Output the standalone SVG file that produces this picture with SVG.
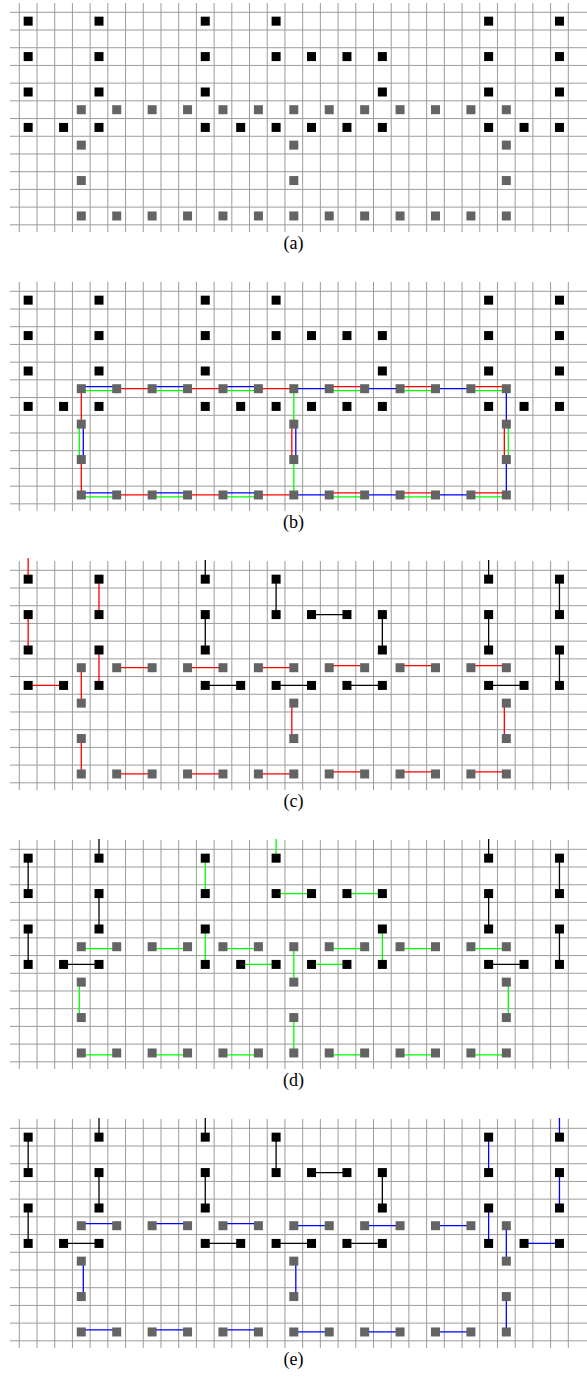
<svg xmlns="http://www.w3.org/2000/svg" xmlns:xlink="http://www.w3.org/1999/xlink" width="587" height="1377" viewBox="0 0 587 1377">
<style>
.grid{fill:none;stroke:#9c9c9c;stroke-width:1}
.cn line{stroke-width:1.3;fill:none}
.r{stroke:#ff0000}.g{stroke:#00ff00}.b{stroke:#0000ff}.k{stroke:#000000}
.lbl{font-family:"Liberation Serif","DejaVu Serif",serif;font-size:18px;fill:#000;text-anchor:middle}
</style>
<defs>
<path id="grid" class="grid" d="M19.3 3V232M37.01 3V232M54.72 3V232M72.43 3V232M90.14 3V232M107.85 3V232M125.56 3V232M143.27 3V232M160.98 3V232M178.69 3V232M196.4 3V232M214.11 3V232M231.82 3V232M249.53 3V232M267.24 3V232M284.95 3V232M302.66 3V232M320.37 3V232M338.08 3V232M355.79 3V232M373.5 3V232M391.21 3V232M408.92 3V232M426.63 3V232M444.34 3V232M462.05 3V232M479.76 3V232M497.47 3V232M515.18 3V232M532.89 3V232M550.6 3V232M568.31 3V232M10 12.3H587M10 30.01H587M10 47.72H587M10 65.43H587M10 83.14H587M10 100.85H587M10 118.56H587M10 136.27H587M10 153.98H587M10 171.69H587M10 189.4H587M10 207.11H587M10 224.82H587"/>
<rect id="k" x="-4.5" y="-4.5" width="9" height="9" fill="#000"/>
<rect id="q" x="-4.5" y="-4.5" width="9" height="9" fill="#646464"/>
</defs>

<!-- ===== Panel (a) ===== -->
<g id="panel-a">
<use href="#grid"/>
<g id="a-nodes">
<g id="a-k0-0"><use href="#k" x="28.16" y="21.16"/></g>
<g id="a-k4-0"><use href="#k" x="99" y="21.16"/></g>
<g id="a-k10-0"><use href="#k" x="205.26" y="21.16"/></g>
<g id="a-k14-0"><use href="#k" x="276.1" y="21.16"/></g>
<g id="a-k26-0"><use href="#k" x="488.62" y="21.16"/></g>
<g id="a-k30-0"><use href="#k" x="559.46" y="21.16"/></g>
<g id="a-k0-2"><use href="#k" x="28.16" y="56.58"/></g>
<g id="a-k4-2"><use href="#k" x="99" y="56.58"/></g>
<g id="a-k10-2"><use href="#k" x="205.26" y="56.58"/></g>
<g id="a-k14-2"><use href="#k" x="276.1" y="56.58"/></g>
<g id="a-k16-2"><use href="#k" x="311.52" y="56.58"/></g>
<g id="a-k18-2"><use href="#k" x="346.94" y="56.58"/></g>
<g id="a-k20-2"><use href="#k" x="382.36" y="56.58"/></g>
<g id="a-k26-2"><use href="#k" x="488.62" y="56.58"/></g>
<g id="a-k30-2"><use href="#k" x="559.46" y="56.58"/></g>
<g id="a-k0-4"><use href="#k" x="28.16" y="92"/></g>
<g id="a-k4-4"><use href="#k" x="99" y="92"/></g>
<g id="a-k10-4"><use href="#k" x="205.26" y="92"/></g>
<g id="a-k20-4"><use href="#k" x="382.36" y="92"/></g>
<g id="a-k26-4"><use href="#k" x="488.62" y="92"/></g>
<g id="a-k30-4"><use href="#k" x="559.46" y="92"/></g>
<g id="a-k0-6"><use href="#k" x="28.16" y="127.42"/></g>
<g id="a-k2-6"><use href="#k" x="63.58" y="127.42"/></g>
<g id="a-k4-6"><use href="#k" x="99" y="127.42"/></g>
<g id="a-k10-6"><use href="#k" x="205.26" y="127.42"/></g>
<g id="a-k12-6"><use href="#k" x="240.68" y="127.42"/></g>
<g id="a-k14-6"><use href="#k" x="276.1" y="127.42"/></g>
<g id="a-k16-6"><use href="#k" x="311.52" y="127.42"/></g>
<g id="a-k18-6"><use href="#k" x="346.94" y="127.42"/></g>
<g id="a-k20-6"><use href="#k" x="382.36" y="127.42"/></g>
<g id="a-k26-6"><use href="#k" x="488.62" y="127.42"/></g>
<g id="a-k28-6"><use href="#k" x="524.04" y="127.42"/></g>
<g id="a-k30-6"><use href="#k" x="559.46" y="127.42"/></g>
<g id="a-q3-5"><use href="#q" x="81.29" y="109.71"/></g>
<g id="a-q5-5"><use href="#q" x="116.71" y="109.71"/></g>
<g id="a-q7-5"><use href="#q" x="152.13" y="109.71"/></g>
<g id="a-q9-5"><use href="#q" x="187.55" y="109.71"/></g>
<g id="a-q11-5"><use href="#q" x="222.97" y="109.71"/></g>
<g id="a-q13-5"><use href="#q" x="258.39" y="109.71"/></g>
<g id="a-q15-5"><use href="#q" x="293.81" y="109.71"/></g>
<g id="a-q17-5"><use href="#q" x="329.23" y="109.71"/></g>
<g id="a-q19-5"><use href="#q" x="364.65" y="109.71"/></g>
<g id="a-q21-5"><use href="#q" x="400.07" y="109.71"/></g>
<g id="a-q23-5"><use href="#q" x="435.49" y="109.71"/></g>
<g id="a-q25-5"><use href="#q" x="470.91" y="109.71"/></g>
<g id="a-q27-5"><use href="#q" x="506.33" y="109.71"/></g>
<g id="a-q3-7"><use href="#q" x="81.29" y="145.13"/></g>
<g id="a-q15-7"><use href="#q" x="293.81" y="145.13"/></g>
<g id="a-q27-7"><use href="#q" x="506.33" y="145.13"/></g>
<g id="a-q3-9"><use href="#q" x="81.29" y="180.55"/></g>
<g id="a-q15-9"><use href="#q" x="293.81" y="180.55"/></g>
<g id="a-q27-9"><use href="#q" x="506.33" y="180.55"/></g>
<g id="a-q3-11"><use href="#q" x="81.29" y="215.97"/></g>
<g id="a-q5-11"><use href="#q" x="116.71" y="215.97"/></g>
<g id="a-q7-11"><use href="#q" x="152.13" y="215.97"/></g>
<g id="a-q9-11"><use href="#q" x="187.55" y="215.97"/></g>
<g id="a-q11-11"><use href="#q" x="222.97" y="215.97"/></g>
<g id="a-q13-11"><use href="#q" x="258.39" y="215.97"/></g>
<g id="a-q15-11"><use href="#q" x="293.81" y="215.97"/></g>
<g id="a-q17-11"><use href="#q" x="329.23" y="215.97"/></g>
<g id="a-q19-11"><use href="#q" x="364.65" y="215.97"/></g>
<g id="a-q21-11"><use href="#q" x="400.07" y="215.97"/></g>
<g id="a-q23-11"><use href="#q" x="435.49" y="215.97"/></g>
<g id="a-q25-11"><use href="#q" x="470.91" y="215.97"/></g>
<g id="a-q27-11"><use href="#q" x="506.33" y="215.97"/></g>
</g>
<text class="lbl" x="293.5" y="249">(a)</text>
</g>

<!-- ===== Panel (b) ===== -->
<g id="panel-b" transform="translate(0 279)">
<use href="#grid"/>
<g id="b-connectors" class="cn">
<line class="b" x1="81.29" y1="107.71" x2="116.71" y2="107.71"/><line class="g" x1="81.29" y1="111.71" x2="116.71" y2="111.71"/>
<line class="r" x1="116.71" y1="109.71" x2="152.13" y2="109.71"/>
<line class="b" x1="152.13" y1="107.71" x2="187.55" y2="107.71"/><line class="g" x1="152.13" y1="111.71" x2="187.55" y2="111.71"/>
<line class="r" x1="187.55" y1="109.71" x2="222.97" y2="109.71"/>
<line class="b" x1="222.97" y1="107.71" x2="258.39" y2="107.71"/><line class="g" x1="222.97" y1="111.71" x2="258.39" y2="111.71"/>
<line class="r" x1="258.39" y1="109.71" x2="293.81" y2="109.71"/>
<line class="b" x1="293.81" y1="109.71" x2="329.23" y2="109.71"/>
<line class="r" x1="329.23" y1="107.71" x2="364.65" y2="107.71"/><line class="g" x1="329.23" y1="111.71" x2="364.65" y2="111.71"/>
<line class="b" x1="364.65" y1="109.71" x2="400.07" y2="109.71"/>
<line class="r" x1="400.07" y1="107.71" x2="435.49" y2="107.71"/><line class="g" x1="400.07" y1="111.71" x2="435.49" y2="111.71"/>
<line class="b" x1="435.49" y1="109.71" x2="470.91" y2="109.71"/>
<line class="r" x1="470.91" y1="107.71" x2="506.33" y2="107.71"/><line class="g" x1="470.91" y1="111.71" x2="506.33" y2="111.71"/>
<line class="b" x1="81.29" y1="213.97" x2="116.71" y2="213.97"/><line class="g" x1="81.29" y1="217.97" x2="116.71" y2="217.97"/>
<line class="r" x1="116.71" y1="215.97" x2="152.13" y2="215.97"/>
<line class="b" x1="152.13" y1="213.97" x2="187.55" y2="213.97"/><line class="g" x1="152.13" y1="217.97" x2="187.55" y2="217.97"/>
<line class="r" x1="187.55" y1="215.97" x2="222.97" y2="215.97"/>
<line class="b" x1="222.97" y1="213.97" x2="258.39" y2="213.97"/><line class="g" x1="222.97" y1="217.97" x2="258.39" y2="217.97"/>
<line class="r" x1="258.39" y1="215.97" x2="293.81" y2="215.97"/>
<line class="b" x1="293.81" y1="215.97" x2="329.23" y2="215.97"/>
<line class="r" x1="329.23" y1="213.97" x2="364.65" y2="213.97"/><line class="g" x1="329.23" y1="217.97" x2="364.65" y2="217.97"/>
<line class="b" x1="364.65" y1="215.97" x2="400.07" y2="215.97"/>
<line class="r" x1="400.07" y1="213.97" x2="435.49" y2="213.97"/><line class="g" x1="400.07" y1="217.97" x2="435.49" y2="217.97"/>
<line class="b" x1="435.49" y1="215.97" x2="470.91" y2="215.97"/>
<line class="r" x1="470.91" y1="213.97" x2="506.33" y2="213.97"/><line class="g" x1="470.91" y1="217.97" x2="506.33" y2="217.97"/>
<line class="r" x1="81.29" y1="109.71" x2="81.29" y2="145.13"/>
<line class="g" x1="79.29" y1="145.13" x2="79.29" y2="180.55"/><line class="b" x1="83.29" y1="145.13" x2="83.29" y2="180.55"/>
<line class="r" x1="81.29" y1="180.55" x2="81.29" y2="215.97"/>
<line class="g" x1="293.81" y1="109.71" x2="293.81" y2="145.13"/>
<line class="r" x1="291.81" y1="145.13" x2="291.81" y2="180.55"/><line class="b" x1="295.81" y1="145.13" x2="295.81" y2="180.55"/>
<line class="g" x1="293.81" y1="180.55" x2="293.81" y2="215.97"/>
<line class="b" x1="506.33" y1="109.71" x2="506.33" y2="145.13"/>
<line class="r" x1="504.33" y1="145.13" x2="504.33" y2="180.55"/><line class="g" x1="508.33" y1="145.13" x2="508.33" y2="180.55"/>
<line class="b" x1="506.33" y1="180.55" x2="506.33" y2="215.97"/>
</g>
<g id="b-nodes">
<g id="b-k0-0"><use href="#k" x="28.16" y="21.16"/></g>
<g id="b-k4-0"><use href="#k" x="99" y="21.16"/></g>
<g id="b-k10-0"><use href="#k" x="205.26" y="21.16"/></g>
<g id="b-k14-0"><use href="#k" x="276.1" y="21.16"/></g>
<g id="b-k26-0"><use href="#k" x="488.62" y="21.16"/></g>
<g id="b-k30-0"><use href="#k" x="559.46" y="21.16"/></g>
<g id="b-k0-2"><use href="#k" x="28.16" y="56.58"/></g>
<g id="b-k4-2"><use href="#k" x="99" y="56.58"/></g>
<g id="b-k10-2"><use href="#k" x="205.26" y="56.58"/></g>
<g id="b-k14-2"><use href="#k" x="276.1" y="56.58"/></g>
<g id="b-k16-2"><use href="#k" x="311.52" y="56.58"/></g>
<g id="b-k18-2"><use href="#k" x="346.94" y="56.58"/></g>
<g id="b-k20-2"><use href="#k" x="382.36" y="56.58"/></g>
<g id="b-k26-2"><use href="#k" x="488.62" y="56.58"/></g>
<g id="b-k30-2"><use href="#k" x="559.46" y="56.58"/></g>
<g id="b-k0-4"><use href="#k" x="28.16" y="92"/></g>
<g id="b-k4-4"><use href="#k" x="99" y="92"/></g>
<g id="b-k10-4"><use href="#k" x="205.26" y="92"/></g>
<g id="b-k20-4"><use href="#k" x="382.36" y="92"/></g>
<g id="b-k26-4"><use href="#k" x="488.62" y="92"/></g>
<g id="b-k30-4"><use href="#k" x="559.46" y="92"/></g>
<g id="b-k0-6"><use href="#k" x="28.16" y="127.42"/></g>
<g id="b-k2-6"><use href="#k" x="63.58" y="127.42"/></g>
<g id="b-k4-6"><use href="#k" x="99" y="127.42"/></g>
<g id="b-k10-6"><use href="#k" x="205.26" y="127.42"/></g>
<g id="b-k12-6"><use href="#k" x="240.68" y="127.42"/></g>
<g id="b-k14-6"><use href="#k" x="276.1" y="127.42"/></g>
<g id="b-k16-6"><use href="#k" x="311.52" y="127.42"/></g>
<g id="b-k18-6"><use href="#k" x="346.94" y="127.42"/></g>
<g id="b-k20-6"><use href="#k" x="382.36" y="127.42"/></g>
<g id="b-k26-6"><use href="#k" x="488.62" y="127.42"/></g>
<g id="b-k28-6"><use href="#k" x="524.04" y="127.42"/></g>
<g id="b-k30-6"><use href="#k" x="559.46" y="127.42"/></g>
<g id="b-q3-5"><use href="#q" x="81.29" y="109.71"/></g>
<g id="b-q5-5"><use href="#q" x="116.71" y="109.71"/></g>
<g id="b-q7-5"><use href="#q" x="152.13" y="109.71"/></g>
<g id="b-q9-5"><use href="#q" x="187.55" y="109.71"/></g>
<g id="b-q11-5"><use href="#q" x="222.97" y="109.71"/></g>
<g id="b-q13-5"><use href="#q" x="258.39" y="109.71"/></g>
<g id="b-q15-5"><use href="#q" x="293.81" y="109.71"/></g>
<g id="b-q17-5"><use href="#q" x="329.23" y="109.71"/></g>
<g id="b-q19-5"><use href="#q" x="364.65" y="109.71"/></g>
<g id="b-q21-5"><use href="#q" x="400.07" y="109.71"/></g>
<g id="b-q23-5"><use href="#q" x="435.49" y="109.71"/></g>
<g id="b-q25-5"><use href="#q" x="470.91" y="109.71"/></g>
<g id="b-q27-5"><use href="#q" x="506.33" y="109.71"/></g>
<g id="b-q3-7"><use href="#q" x="81.29" y="145.13"/></g>
<g id="b-q15-7"><use href="#q" x="293.81" y="145.13"/></g>
<g id="b-q27-7"><use href="#q" x="506.33" y="145.13"/></g>
<g id="b-q3-9"><use href="#q" x="81.29" y="180.55"/></g>
<g id="b-q15-9"><use href="#q" x="293.81" y="180.55"/></g>
<g id="b-q27-9"><use href="#q" x="506.33" y="180.55"/></g>
<g id="b-q3-11"><use href="#q" x="81.29" y="215.97"/></g>
<g id="b-q5-11"><use href="#q" x="116.71" y="215.97"/></g>
<g id="b-q7-11"><use href="#q" x="152.13" y="215.97"/></g>
<g id="b-q9-11"><use href="#q" x="187.55" y="215.97"/></g>
<g id="b-q11-11"><use href="#q" x="222.97" y="215.97"/></g>
<g id="b-q13-11"><use href="#q" x="258.39" y="215.97"/></g>
<g id="b-q15-11"><use href="#q" x="293.81" y="215.97"/></g>
<g id="b-q17-11"><use href="#q" x="329.23" y="215.97"/></g>
<g id="b-q19-11"><use href="#q" x="364.65" y="215.97"/></g>
<g id="b-q21-11"><use href="#q" x="400.07" y="215.97"/></g>
<g id="b-q23-11"><use href="#q" x="435.49" y="215.97"/></g>
<g id="b-q25-11"><use href="#q" x="470.91" y="215.97"/></g>
<g id="b-q27-11"><use href="#q" x="506.33" y="215.97"/></g>
</g>
<text class="lbl" x="293.5" y="249">(b)</text>
</g>

<!-- ===== Panel (c) ===== -->
<g id="panel-c" transform="translate(0 558)">
<use href="#grid"/>
<g id="c-connectors" class="cn">
<line class="r" x1="116.71" y1="109.71" x2="152.13" y2="109.71"/>
<line class="r" x1="187.55" y1="109.71" x2="222.97" y2="109.71"/>
<line class="r" x1="258.39" y1="109.71" x2="293.81" y2="109.71"/>
<line class="r" x1="329.23" y1="107.71" x2="364.65" y2="107.71"/>
<line class="r" x1="400.07" y1="107.71" x2="435.49" y2="107.71"/>
<line class="r" x1="470.91" y1="107.71" x2="506.33" y2="107.71"/>
<line class="r" x1="116.71" y1="215.97" x2="152.13" y2="215.97"/>
<line class="r" x1="187.55" y1="215.97" x2="222.97" y2="215.97"/>
<line class="r" x1="258.39" y1="215.97" x2="293.81" y2="215.97"/>
<line class="r" x1="329.23" y1="213.97" x2="364.65" y2="213.97"/>
<line class="r" x1="400.07" y1="213.97" x2="435.49" y2="213.97"/>
<line class="r" x1="470.91" y1="213.97" x2="506.33" y2="213.97"/>
<line class="r" x1="81.29" y1="109.71" x2="81.29" y2="145.13"/>
<line class="r" x1="81.29" y1="180.55" x2="81.29" y2="215.97"/>
<line class="r" x1="291.81" y1="145.13" x2="291.81" y2="180.55"/>
<line class="r" x1="504.33" y1="145.13" x2="504.33" y2="180.55"/>
<line class="r" x1="28.16" y1="0" x2="28.16" y2="21.16"/>
<line class="r" x1="28.16" y1="56.58" x2="28.16" y2="92"/>
<line class="r" x1="28.16" y1="127.42" x2="63.58" y2="127.42"/>
<line class="r" x1="99" y1="21.16" x2="99" y2="56.58"/>
<line class="r" x1="99" y1="92" x2="99" y2="127.42"/>
<line class="k" x1="205.26" y1="2" x2="205.26" y2="21.16"/>
<line class="k" x1="205.26" y1="56.58" x2="205.26" y2="92"/>
<line class="k" x1="205.26" y1="127.42" x2="240.68" y2="127.42"/>
<line class="k" x1="276.1" y1="21.16" x2="276.1" y2="56.58"/>
<line class="k" x1="276.1" y1="127.42" x2="311.52" y2="127.42"/>
<line class="k" x1="311.52" y1="56.58" x2="346.94" y2="56.58"/>
<line class="k" x1="382.36" y1="56.58" x2="382.36" y2="92"/>
<line class="k" x1="346.94" y1="127.42" x2="382.36" y2="127.42"/>
<line class="k" x1="488.62" y1="2" x2="488.62" y2="21.16"/>
<line class="k" x1="488.62" y1="56.58" x2="488.62" y2="92"/>
<line class="k" x1="488.62" y1="127.42" x2="524.04" y2="127.42"/>
<line class="k" x1="559.46" y1="21.16" x2="559.46" y2="56.58"/>
<line class="k" x1="559.46" y1="92" x2="559.46" y2="127.42"/>
</g>
<g id="c-nodes">
<g id="c-k0-0"><use href="#k" x="28.16" y="21.16"/></g>
<g id="c-k4-0"><use href="#k" x="99" y="21.16"/></g>
<g id="c-k10-0"><use href="#k" x="205.26" y="21.16"/></g>
<g id="c-k14-0"><use href="#k" x="276.1" y="21.16"/></g>
<g id="c-k26-0"><use href="#k" x="488.62" y="21.16"/></g>
<g id="c-k30-0"><use href="#k" x="559.46" y="21.16"/></g>
<g id="c-k0-2"><use href="#k" x="28.16" y="56.58"/></g>
<g id="c-k4-2"><use href="#k" x="99" y="56.58"/></g>
<g id="c-k10-2"><use href="#k" x="205.26" y="56.58"/></g>
<g id="c-k14-2"><use href="#k" x="276.1" y="56.58"/></g>
<g id="c-k16-2"><use href="#k" x="311.52" y="56.58"/></g>
<g id="c-k18-2"><use href="#k" x="346.94" y="56.58"/></g>
<g id="c-k20-2"><use href="#k" x="382.36" y="56.58"/></g>
<g id="c-k26-2"><use href="#k" x="488.62" y="56.58"/></g>
<g id="c-k30-2"><use href="#k" x="559.46" y="56.58"/></g>
<g id="c-k0-4"><use href="#k" x="28.16" y="92"/></g>
<g id="c-k4-4"><use href="#k" x="99" y="92"/></g>
<g id="c-k10-4"><use href="#k" x="205.26" y="92"/></g>
<g id="c-k20-4"><use href="#k" x="382.36" y="92"/></g>
<g id="c-k26-4"><use href="#k" x="488.62" y="92"/></g>
<g id="c-k30-4"><use href="#k" x="559.46" y="92"/></g>
<g id="c-k0-6"><use href="#k" x="28.16" y="127.42"/></g>
<g id="c-k2-6"><use href="#k" x="63.58" y="127.42"/></g>
<g id="c-k4-6"><use href="#k" x="99" y="127.42"/></g>
<g id="c-k10-6"><use href="#k" x="205.26" y="127.42"/></g>
<g id="c-k12-6"><use href="#k" x="240.68" y="127.42"/></g>
<g id="c-k14-6"><use href="#k" x="276.1" y="127.42"/></g>
<g id="c-k16-6"><use href="#k" x="311.52" y="127.42"/></g>
<g id="c-k18-6"><use href="#k" x="346.94" y="127.42"/></g>
<g id="c-k20-6"><use href="#k" x="382.36" y="127.42"/></g>
<g id="c-k26-6"><use href="#k" x="488.62" y="127.42"/></g>
<g id="c-k28-6"><use href="#k" x="524.04" y="127.42"/></g>
<g id="c-k30-6"><use href="#k" x="559.46" y="127.42"/></g>
<g id="c-q3-5"><use href="#q" x="81.29" y="109.71"/></g>
<g id="c-q5-5"><use href="#q" x="116.71" y="109.71"/></g>
<g id="c-q7-5"><use href="#q" x="152.13" y="109.71"/></g>
<g id="c-q9-5"><use href="#q" x="187.55" y="109.71"/></g>
<g id="c-q11-5"><use href="#q" x="222.97" y="109.71"/></g>
<g id="c-q13-5"><use href="#q" x="258.39" y="109.71"/></g>
<g id="c-q15-5"><use href="#q" x="293.81" y="109.71"/></g>
<g id="c-q17-5"><use href="#q" x="329.23" y="109.71"/></g>
<g id="c-q19-5"><use href="#q" x="364.65" y="109.71"/></g>
<g id="c-q21-5"><use href="#q" x="400.07" y="109.71"/></g>
<g id="c-q23-5"><use href="#q" x="435.49" y="109.71"/></g>
<g id="c-q25-5"><use href="#q" x="470.91" y="109.71"/></g>
<g id="c-q27-5"><use href="#q" x="506.33" y="109.71"/></g>
<g id="c-q3-7"><use href="#q" x="81.29" y="145.13"/></g>
<g id="c-q15-7"><use href="#q" x="293.81" y="145.13"/></g>
<g id="c-q27-7"><use href="#q" x="506.33" y="145.13"/></g>
<g id="c-q3-9"><use href="#q" x="81.29" y="180.55"/></g>
<g id="c-q15-9"><use href="#q" x="293.81" y="180.55"/></g>
<g id="c-q27-9"><use href="#q" x="506.33" y="180.55"/></g>
<g id="c-q3-11"><use href="#q" x="81.29" y="215.97"/></g>
<g id="c-q5-11"><use href="#q" x="116.71" y="215.97"/></g>
<g id="c-q7-11"><use href="#q" x="152.13" y="215.97"/></g>
<g id="c-q9-11"><use href="#q" x="187.55" y="215.97"/></g>
<g id="c-q11-11"><use href="#q" x="222.97" y="215.97"/></g>
<g id="c-q13-11"><use href="#q" x="258.39" y="215.97"/></g>
<g id="c-q15-11"><use href="#q" x="293.81" y="215.97"/></g>
<g id="c-q17-11"><use href="#q" x="329.23" y="215.97"/></g>
<g id="c-q19-11"><use href="#q" x="364.65" y="215.97"/></g>
<g id="c-q21-11"><use href="#q" x="400.07" y="215.97"/></g>
<g id="c-q23-11"><use href="#q" x="435.49" y="215.97"/></g>
<g id="c-q25-11"><use href="#q" x="470.91" y="215.97"/></g>
<g id="c-q27-11"><use href="#q" x="506.33" y="215.97"/></g>
</g>
<text class="lbl" x="293.5" y="249">(c)</text>
</g>

<!-- ===== Panel (d) ===== -->
<g id="panel-d" transform="translate(0 837)">
<use href="#grid"/>
<g id="d-connectors" class="cn">
<line class="g" x1="81.29" y1="111.71" x2="116.71" y2="111.71"/>
<line class="g" x1="152.13" y1="111.71" x2="187.55" y2="111.71"/>
<line class="g" x1="222.97" y1="111.71" x2="258.39" y2="111.71"/>
<line class="g" x1="329.23" y1="111.71" x2="364.65" y2="111.71"/>
<line class="g" x1="400.07" y1="111.71" x2="435.49" y2="111.71"/>
<line class="g" x1="470.91" y1="111.71" x2="506.33" y2="111.71"/>
<line class="g" x1="81.29" y1="217.97" x2="116.71" y2="217.97"/>
<line class="g" x1="152.13" y1="217.97" x2="187.55" y2="217.97"/>
<line class="g" x1="222.97" y1="217.97" x2="258.39" y2="217.97"/>
<line class="g" x1="329.23" y1="217.97" x2="364.65" y2="217.97"/>
<line class="g" x1="400.07" y1="217.97" x2="435.49" y2="217.97"/>
<line class="g" x1="470.91" y1="217.97" x2="506.33" y2="217.97"/>
<line class="g" x1="79.29" y1="145.13" x2="79.29" y2="180.55"/>
<line class="g" x1="293.81" y1="109.71" x2="293.81" y2="145.13"/>
<line class="g" x1="293.81" y1="180.55" x2="293.81" y2="215.97"/>
<line class="g" x1="508.33" y1="145.13" x2="508.33" y2="180.55"/>
<line class="g" x1="205.26" y1="21.16" x2="205.26" y2="56.58"/>
<line class="g" x1="205.26" y1="92" x2="205.26" y2="127.42"/>
<line class="g" x1="240.68" y1="127.42" x2="276.1" y2="127.42"/>
<line class="g" x1="276.1" y1="2" x2="276.1" y2="21.16"/>
<line class="g" x1="276.1" y1="56.58" x2="311.52" y2="56.58"/>
<line class="g" x1="346.94" y1="56.58" x2="382.36" y2="56.58"/>
<line class="g" x1="382.36" y1="92" x2="382.36" y2="127.42"/>
<line class="g" x1="311.52" y1="127.42" x2="346.94" y2="127.42"/>
<line class="k" x1="28.16" y1="21.16" x2="28.16" y2="56.58"/>
<line class="k" x1="28.16" y1="92" x2="28.16" y2="127.42"/>
<line class="k" x1="99" y1="2" x2="99" y2="21.16"/>
<line class="k" x1="99" y1="56.58" x2="99" y2="92"/>
<line class="k" x1="63.58" y1="127.42" x2="99" y2="127.42"/>
<line class="k" x1="488.62" y1="2" x2="488.62" y2="21.16"/>
<line class="k" x1="488.62" y1="56.58" x2="488.62" y2="92"/>
<line class="k" x1="488.62" y1="127.42" x2="524.04" y2="127.42"/>
<line class="k" x1="559.46" y1="21.16" x2="559.46" y2="56.58"/>
<line class="k" x1="559.46" y1="92" x2="559.46" y2="127.42"/>
</g>
<g id="d-nodes">
<g id="d-k0-0"><use href="#k" x="28.16" y="21.16"/></g>
<g id="d-k4-0"><use href="#k" x="99" y="21.16"/></g>
<g id="d-k10-0"><use href="#k" x="205.26" y="21.16"/></g>
<g id="d-k14-0"><use href="#k" x="276.1" y="21.16"/></g>
<g id="d-k26-0"><use href="#k" x="488.62" y="21.16"/></g>
<g id="d-k30-0"><use href="#k" x="559.46" y="21.16"/></g>
<g id="d-k0-2"><use href="#k" x="28.16" y="56.58"/></g>
<g id="d-k4-2"><use href="#k" x="99" y="56.58"/></g>
<g id="d-k10-2"><use href="#k" x="205.26" y="56.58"/></g>
<g id="d-k14-2"><use href="#k" x="276.1" y="56.58"/></g>
<g id="d-k16-2"><use href="#k" x="311.52" y="56.58"/></g>
<g id="d-k18-2"><use href="#k" x="346.94" y="56.58"/></g>
<g id="d-k20-2"><use href="#k" x="382.36" y="56.58"/></g>
<g id="d-k26-2"><use href="#k" x="488.62" y="56.58"/></g>
<g id="d-k30-2"><use href="#k" x="559.46" y="56.58"/></g>
<g id="d-k0-4"><use href="#k" x="28.16" y="92"/></g>
<g id="d-k4-4"><use href="#k" x="99" y="92"/></g>
<g id="d-k10-4"><use href="#k" x="205.26" y="92"/></g>
<g id="d-k20-4"><use href="#k" x="382.36" y="92"/></g>
<g id="d-k26-4"><use href="#k" x="488.62" y="92"/></g>
<g id="d-k30-4"><use href="#k" x="559.46" y="92"/></g>
<g id="d-k0-6"><use href="#k" x="28.16" y="127.42"/></g>
<g id="d-k2-6"><use href="#k" x="63.58" y="127.42"/></g>
<g id="d-k4-6"><use href="#k" x="99" y="127.42"/></g>
<g id="d-k10-6"><use href="#k" x="205.26" y="127.42"/></g>
<g id="d-k12-6"><use href="#k" x="240.68" y="127.42"/></g>
<g id="d-k14-6"><use href="#k" x="276.1" y="127.42"/></g>
<g id="d-k16-6"><use href="#k" x="311.52" y="127.42"/></g>
<g id="d-k18-6"><use href="#k" x="346.94" y="127.42"/></g>
<g id="d-k20-6"><use href="#k" x="382.36" y="127.42"/></g>
<g id="d-k26-6"><use href="#k" x="488.62" y="127.42"/></g>
<g id="d-k28-6"><use href="#k" x="524.04" y="127.42"/></g>
<g id="d-k30-6"><use href="#k" x="559.46" y="127.42"/></g>
<g id="d-q3-5"><use href="#q" x="81.29" y="109.71"/></g>
<g id="d-q5-5"><use href="#q" x="116.71" y="109.71"/></g>
<g id="d-q7-5"><use href="#q" x="152.13" y="109.71"/></g>
<g id="d-q9-5"><use href="#q" x="187.55" y="109.71"/></g>
<g id="d-q11-5"><use href="#q" x="222.97" y="109.71"/></g>
<g id="d-q13-5"><use href="#q" x="258.39" y="109.71"/></g>
<g id="d-q15-5"><use href="#q" x="293.81" y="109.71"/></g>
<g id="d-q17-5"><use href="#q" x="329.23" y="109.71"/></g>
<g id="d-q19-5"><use href="#q" x="364.65" y="109.71"/></g>
<g id="d-q21-5"><use href="#q" x="400.07" y="109.71"/></g>
<g id="d-q23-5"><use href="#q" x="435.49" y="109.71"/></g>
<g id="d-q25-5"><use href="#q" x="470.91" y="109.71"/></g>
<g id="d-q27-5"><use href="#q" x="506.33" y="109.71"/></g>
<g id="d-q3-7"><use href="#q" x="81.29" y="145.13"/></g>
<g id="d-q15-7"><use href="#q" x="293.81" y="145.13"/></g>
<g id="d-q27-7"><use href="#q" x="506.33" y="145.13"/></g>
<g id="d-q3-9"><use href="#q" x="81.29" y="180.55"/></g>
<g id="d-q15-9"><use href="#q" x="293.81" y="180.55"/></g>
<g id="d-q27-9"><use href="#q" x="506.33" y="180.55"/></g>
<g id="d-q3-11"><use href="#q" x="81.29" y="215.97"/></g>
<g id="d-q5-11"><use href="#q" x="116.71" y="215.97"/></g>
<g id="d-q7-11"><use href="#q" x="152.13" y="215.97"/></g>
<g id="d-q9-11"><use href="#q" x="187.55" y="215.97"/></g>
<g id="d-q11-11"><use href="#q" x="222.97" y="215.97"/></g>
<g id="d-q13-11"><use href="#q" x="258.39" y="215.97"/></g>
<g id="d-q15-11"><use href="#q" x="293.81" y="215.97"/></g>
<g id="d-q17-11"><use href="#q" x="329.23" y="215.97"/></g>
<g id="d-q19-11"><use href="#q" x="364.65" y="215.97"/></g>
<g id="d-q21-11"><use href="#q" x="400.07" y="215.97"/></g>
<g id="d-q23-11"><use href="#q" x="435.49" y="215.97"/></g>
<g id="d-q25-11"><use href="#q" x="470.91" y="215.97"/></g>
<g id="d-q27-11"><use href="#q" x="506.33" y="215.97"/></g>
</g>
<text class="lbl" x="293.5" y="249">(d)</text>
</g>

<!-- ===== Panel (e) ===== -->
<g id="panel-e" transform="translate(0 1116)">
<use href="#grid"/>
<g id="e-connectors" class="cn">
<line class="b" x1="81.29" y1="107.71" x2="116.71" y2="107.71"/>
<line class="b" x1="152.13" y1="107.71" x2="187.55" y2="107.71"/>
<line class="b" x1="222.97" y1="107.71" x2="258.39" y2="107.71"/>
<line class="b" x1="293.81" y1="109.71" x2="329.23" y2="109.71"/>
<line class="b" x1="364.65" y1="109.71" x2="400.07" y2="109.71"/>
<line class="b" x1="435.49" y1="109.71" x2="470.91" y2="109.71"/>
<line class="b" x1="81.29" y1="213.97" x2="116.71" y2="213.97"/>
<line class="b" x1="152.13" y1="213.97" x2="187.55" y2="213.97"/>
<line class="b" x1="222.97" y1="213.97" x2="258.39" y2="213.97"/>
<line class="b" x1="293.81" y1="215.97" x2="329.23" y2="215.97"/>
<line class="b" x1="364.65" y1="215.97" x2="400.07" y2="215.97"/>
<line class="b" x1="435.49" y1="215.97" x2="470.91" y2="215.97"/>
<line class="b" x1="83.29" y1="145.13" x2="83.29" y2="180.55"/>
<line class="b" x1="295.81" y1="145.13" x2="295.81" y2="180.55"/>
<line class="b" x1="506.33" y1="109.71" x2="506.33" y2="145.13"/>
<line class="b" x1="506.33" y1="180.55" x2="506.33" y2="215.97"/>
<line class="b" x1="488.62" y1="21.16" x2="488.62" y2="56.58"/>
<line class="b" x1="488.62" y1="92" x2="488.62" y2="127.42"/>
<line class="b" x1="524.04" y1="127.42" x2="559.46" y2="127.42"/>
<line class="b" x1="559.46" y1="2" x2="559.46" y2="21.16"/>
<line class="b" x1="559.46" y1="56.58" x2="559.46" y2="92"/>
<line class="k" x1="28.16" y1="21.16" x2="28.16" y2="56.58"/>
<line class="k" x1="28.16" y1="92" x2="28.16" y2="127.42"/>
<line class="k" x1="99" y1="2" x2="99" y2="21.16"/>
<line class="k" x1="99" y1="56.58" x2="99" y2="92"/>
<line class="k" x1="63.58" y1="127.42" x2="99" y2="127.42"/>
<line class="k" x1="205.26" y1="2" x2="205.26" y2="21.16"/>
<line class="k" x1="205.26" y1="56.58" x2="205.26" y2="92"/>
<line class="k" x1="205.26" y1="127.42" x2="240.68" y2="127.42"/>
<line class="k" x1="276.1" y1="21.16" x2="276.1" y2="56.58"/>
<line class="k" x1="276.1" y1="127.42" x2="311.52" y2="127.42"/>
<line class="k" x1="311.52" y1="56.58" x2="346.94" y2="56.58"/>
<line class="k" x1="382.36" y1="56.58" x2="382.36" y2="92"/>
<line class="k" x1="346.94" y1="127.42" x2="382.36" y2="127.42"/>
</g>
<g id="e-nodes">
<g id="e-k0-0"><use href="#k" x="28.16" y="21.16"/></g>
<g id="e-k4-0"><use href="#k" x="99" y="21.16"/></g>
<g id="e-k10-0"><use href="#k" x="205.26" y="21.16"/></g>
<g id="e-k14-0"><use href="#k" x="276.1" y="21.16"/></g>
<g id="e-k26-0"><use href="#k" x="488.62" y="21.16"/></g>
<g id="e-k30-0"><use href="#k" x="559.46" y="21.16"/></g>
<g id="e-k0-2"><use href="#k" x="28.16" y="56.58"/></g>
<g id="e-k4-2"><use href="#k" x="99" y="56.58"/></g>
<g id="e-k10-2"><use href="#k" x="205.26" y="56.58"/></g>
<g id="e-k14-2"><use href="#k" x="276.1" y="56.58"/></g>
<g id="e-k16-2"><use href="#k" x="311.52" y="56.58"/></g>
<g id="e-k18-2"><use href="#k" x="346.94" y="56.58"/></g>
<g id="e-k20-2"><use href="#k" x="382.36" y="56.58"/></g>
<g id="e-k26-2"><use href="#k" x="488.62" y="56.58"/></g>
<g id="e-k30-2"><use href="#k" x="559.46" y="56.58"/></g>
<g id="e-k0-4"><use href="#k" x="28.16" y="92"/></g>
<g id="e-k4-4"><use href="#k" x="99" y="92"/></g>
<g id="e-k10-4"><use href="#k" x="205.26" y="92"/></g>
<g id="e-k20-4"><use href="#k" x="382.36" y="92"/></g>
<g id="e-k26-4"><use href="#k" x="488.62" y="92"/></g>
<g id="e-k30-4"><use href="#k" x="559.46" y="92"/></g>
<g id="e-k0-6"><use href="#k" x="28.16" y="127.42"/></g>
<g id="e-k2-6"><use href="#k" x="63.58" y="127.42"/></g>
<g id="e-k4-6"><use href="#k" x="99" y="127.42"/></g>
<g id="e-k10-6"><use href="#k" x="205.26" y="127.42"/></g>
<g id="e-k12-6"><use href="#k" x="240.68" y="127.42"/></g>
<g id="e-k14-6"><use href="#k" x="276.1" y="127.42"/></g>
<g id="e-k16-6"><use href="#k" x="311.52" y="127.42"/></g>
<g id="e-k18-6"><use href="#k" x="346.94" y="127.42"/></g>
<g id="e-k20-6"><use href="#k" x="382.36" y="127.42"/></g>
<g id="e-k26-6"><use href="#k" x="488.62" y="127.42"/></g>
<g id="e-k28-6"><use href="#k" x="524.04" y="127.42"/></g>
<g id="e-k30-6"><use href="#k" x="559.46" y="127.42"/></g>
<g id="e-q3-5"><use href="#q" x="81.29" y="109.71"/></g>
<g id="e-q5-5"><use href="#q" x="116.71" y="109.71"/></g>
<g id="e-q7-5"><use href="#q" x="152.13" y="109.71"/></g>
<g id="e-q9-5"><use href="#q" x="187.55" y="109.71"/></g>
<g id="e-q11-5"><use href="#q" x="222.97" y="109.71"/></g>
<g id="e-q13-5"><use href="#q" x="258.39" y="109.71"/></g>
<g id="e-q15-5"><use href="#q" x="293.81" y="109.71"/></g>
<g id="e-q17-5"><use href="#q" x="329.23" y="109.71"/></g>
<g id="e-q19-5"><use href="#q" x="364.65" y="109.71"/></g>
<g id="e-q21-5"><use href="#q" x="400.07" y="109.71"/></g>
<g id="e-q23-5"><use href="#q" x="435.49" y="109.71"/></g>
<g id="e-q25-5"><use href="#q" x="470.91" y="109.71"/></g>
<g id="e-q27-5"><use href="#q" x="506.33" y="109.71"/></g>
<g id="e-q3-7"><use href="#q" x="81.29" y="145.13"/></g>
<g id="e-q15-7"><use href="#q" x="293.81" y="145.13"/></g>
<g id="e-q27-7"><use href="#q" x="506.33" y="145.13"/></g>
<g id="e-q3-9"><use href="#q" x="81.29" y="180.55"/></g>
<g id="e-q15-9"><use href="#q" x="293.81" y="180.55"/></g>
<g id="e-q27-9"><use href="#q" x="506.33" y="180.55"/></g>
<g id="e-q3-11"><use href="#q" x="81.29" y="215.97"/></g>
<g id="e-q5-11"><use href="#q" x="116.71" y="215.97"/></g>
<g id="e-q7-11"><use href="#q" x="152.13" y="215.97"/></g>
<g id="e-q9-11"><use href="#q" x="187.55" y="215.97"/></g>
<g id="e-q11-11"><use href="#q" x="222.97" y="215.97"/></g>
<g id="e-q13-11"><use href="#q" x="258.39" y="215.97"/></g>
<g id="e-q15-11"><use href="#q" x="293.81" y="215.97"/></g>
<g id="e-q17-11"><use href="#q" x="329.23" y="215.97"/></g>
<g id="e-q19-11"><use href="#q" x="364.65" y="215.97"/></g>
<g id="e-q21-11"><use href="#q" x="400.07" y="215.97"/></g>
<g id="e-q23-11"><use href="#q" x="435.49" y="215.97"/></g>
<g id="e-q25-11"><use href="#q" x="470.91" y="215.97"/></g>
<g id="e-q27-11"><use href="#q" x="506.33" y="215.97"/></g>
</g>
<text class="lbl" x="293.5" y="249">(e)</text>
</g>
</svg>
